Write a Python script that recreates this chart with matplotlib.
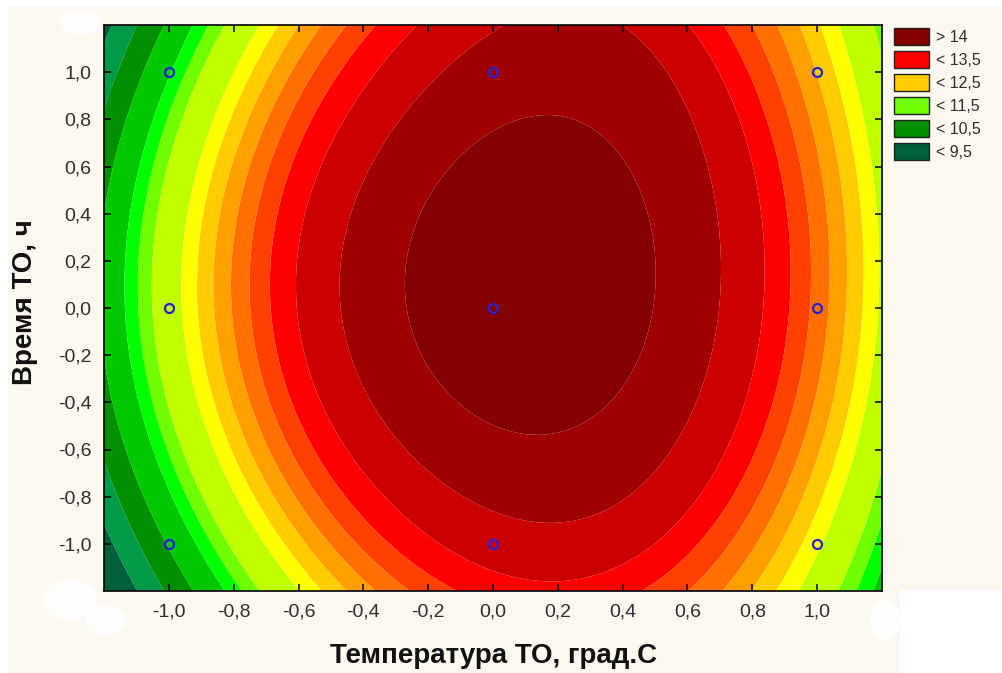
import numpy as np
import matplotlib
matplotlib.use("Agg")
import matplotlib.pyplot as plt
from matplotlib.patches import Patch, Polygon, Ellipse
from matplotlib.ticker import FuncFormatter, FixedLocator

plt.rcParams['font.family'] = ['Liberation Sans', 'DejaVu Sans']

# Experimental design points (coded units): temperature x time
design_temp = [-1, 0, 1, -1, 0, 1, -1, 0, 1]
design_time = [1, 1, 1, 0, 0, 0, -1, -1, -1]

# Fitted response surface parameters (relative to the optimum)
peak = 14.19
temp_opt, time_opt = 0.115, 0.12
time_weight = 0.35
slope_core, slope_outer = 1.27, 2.45
knee, knee_width = 0.55, 0.05
interaction = 0.05
temp_time2 = 0.20
time_cubic = 0.03
time_quartic = 0.055

# Contour levels and band colours (low -> high)
levels = [9.5, 10.0, 10.5, 11.0, 11.25, 11.5, 12.0, 12.25, 12.5,
          12.75, 13.0, 13.25, 13.5, 13.75, 14.0]
band_colors = ['#00603c', '#009a48', '#009000', '#00c800', '#00ff00',
               '#70ff00', '#c0ff00', '#ffff00', '#ffcc00', '#ffa000',
               '#ff7000', '#ff4000', '#ff0000', '#cc0000', '#a00000',
               '#850000']

legend_labels = ['> 14', '< 13,5', '< 12,5', '< 11,5', '< 10,5', '< 9,5']
legend_bounds = [None, 13.5, 12.5, 11.5, 10.5, 9.5]

tick_values = [-1.0, -0.8, -0.6, -0.4, -0.2, 0.0, 0.2, 0.4, 0.6, 0.8, 1.0]
x_label = 'Температура ТО, град.С'
y_label = 'Время ТО, ч'


def response(t, h):
    dt, dh = t - temp_opt, h - time_opt
    u = dt ** 2 + time_weight * dh ** 2
    z = (peak - slope_core * u
         - (slope_outer - slope_core) * knee_width
         * np.logaddexp(0.0, (u - knee) / knee_width))
    return (z + interaction * dt * dh + temp_time2 * dt * dh ** 2
            + time_cubic * dh ** 3 + time_quartic * dh ** 4)


W, H = 1003, 673
fig = plt.figure(figsize=(W / 100, H / 100), dpi=100, facecolor='white')

# cream page background
bg = Polygon([(8 / W, 0), (900 / W, 0), (900 / W, 1 - 590 / H),
              (1, 1 - 590 / H), (1, 1 - 7 / H), (8 / W, 1 - 7 / H)],
             closed=True, transform=fig.transFigure, facecolor='#fcf8ef',
             edgecolor='none', zorder=-5)
fig.patches.append(bg)

# pale smudges on the page margins
for cx, cy, w, h in [(80, 22, 40, 26), (70, 600, 55, 40), (105, 620, 40, 30),
                     (885, 620, 30, 40)]:
    fig.patches.append(Ellipse((cx / W, 1 - cy / H), w / W, h / H,
                               transform=fig.transFigure, facecolor='white',
                               edgecolor='none', alpha=0.85, zorder=-4))

ax = fig.add_axes([104 / W, 1 - 591 / H, 778 / W, 566 / H], zorder=1)

grid = np.linspace(-1.2, 1.2, 500)
T, Hh = np.meshgrid(grid, grid)
Z = response(T, Hh)

ax.contourf(T, Hh, Z, levels=levels, colors=band_colors, extend='both',
            antialiased=True)

ax.plot(design_temp, design_time, linestyle='none', marker='o',
        markersize=6.5, markerfacecolor='none', markeredgecolor='#2a22d0',
        markeredgewidth=1.6)

ax.set_xlim(-1.2, 1.2)
ax.set_ylim(-1.2, 1.2)

fmt = FuncFormatter(lambda v, p: f"{v:.1f}".replace('.', ',').replace('-0,0', '0,0'))
ax.xaxis.set_major_locator(FixedLocator(tick_values))
ax.yaxis.set_major_locator(FixedLocator(tick_values))
ax.xaxis.set_major_formatter(fmt)
ax.yaxis.set_major_formatter(fmt)
ax.tick_params(direction='in', length=5, width=1.1, top=True, right=True,
               labelsize=14, labelcolor='#2e2e2e', color='black')
ax.tick_params(axis='x', pad=9)
ax.tick_params(axis='y', pad=9)
for s in ax.spines.values():
    s.set_linewidth(1.2)
    s.set_color('black')

fig.text(494 / W, 1 - 656 / H, x_label, ha='center', va='center',
         fontsize=20, fontweight='bold', color='#111111')
fig.text(25 / W, 1 - 302 / H, y_label, ha='center', va='center',
         rotation=90, fontsize=20, fontweight='bold', color='#111111')

handles = []
for lab, b in zip(legend_labels, legend_bounds):
    col = band_colors[-1] if b is None else band_colors[levels.index(b)]
    handles.append(Patch(facecolor=col, edgecolor='#222222', linewidth=1.0, label=lab))

fig.legend(handles=handles, loc='upper left',
           bbox_to_anchor=(894 / W, 1 - 28 / H), frameon=False,
           fontsize=11.5, handlelength=2.2, handleheight=1.25,
           labelspacing=0.38, handletextpad=0.45, borderaxespad=0,
           borderpad=0, labelcolor='#2e2e2e')

fig.savefig('out.png', dpi=100, facecolor=fig.get_facecolor())
